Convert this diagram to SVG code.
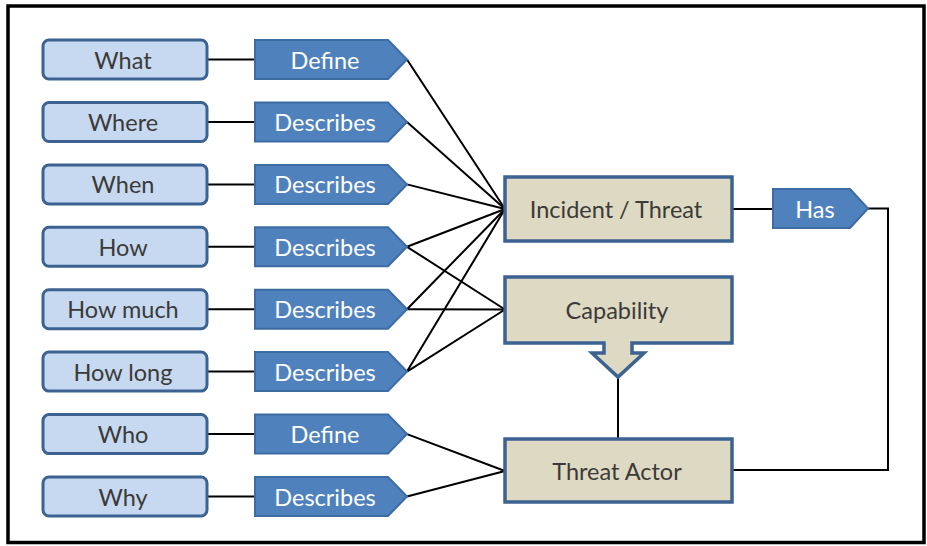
<svg xmlns="http://www.w3.org/2000/svg" width="927" height="546" viewBox="0 0 927 546">
  <defs>
    <style>
      .q { fill: #c6d9f1; stroke: #3b6291; stroke-width: 3; }
      .tag { fill: #4f81bd; stroke: #3d6ca3; stroke-width: 2; }
      .ent { fill: #ddd9c3; stroke: #3b6291; stroke-width: 3.5; }
      .conn { fill: none; stroke: #000; stroke-width: 2; }
      .t { font-family: Lato, "Liberation Sans", sans-serif; font-size: 23.5px; text-anchor: middle; dominant-baseline: central; }
      .dark { fill: #3c3a38; }
      .light { fill: #ffffff; }
    </style>
  </defs>

  <rect width="927" height="546" fill="#fff"/>
  <!-- outer frame -->
  <rect x="8" y="6" width="916" height="536.5" fill="none" stroke="#000" stroke-width="3.5"/>

  <!-- connectors -->
  <g id="connectors" class="conn">
    <line x1="207" y1="59.5" x2="255" y2="59.5"/>
    <line x1="207" y1="122" x2="255" y2="122"/>
    <line x1="207" y1="184.4" x2="255" y2="184.4"/>
    <line x1="207" y1="246.8" x2="255" y2="246.8"/>
    <line x1="207" y1="309.2" x2="255" y2="309.2"/>
    <line x1="207" y1="371.6" x2="255" y2="371.6"/>
    <line x1="207" y1="434.1" x2="255" y2="434.1"/>
    <line x1="207" y1="496.5" x2="255" y2="496.5"/>

    <line x1="407" y1="59.5" x2="505" y2="209"/>
    <line x1="407" y1="122" x2="505" y2="209"/>
    <line x1="407" y1="184.4" x2="505" y2="209"/>
    <line x1="407" y1="246.8" x2="505" y2="209"/>
    <line x1="407" y1="309.2" x2="505" y2="209"/>
    <line x1="407" y1="371.6" x2="505" y2="209"/>
    <line x1="407" y1="246.8" x2="505" y2="309.5"/>
    <line x1="407" y1="309.2" x2="505" y2="309.5"/>
    <line x1="407" y1="371.6" x2="505" y2="309.5"/>
    <line x1="407" y1="434.1" x2="505" y2="471"/>
    <line x1="407" y1="496.5" x2="505" y2="471"/>

    <line x1="732" y1="209" x2="773" y2="209"/>
    <polyline points="868,208.5 888,208.5 888,470 732,470"/>
    <line x1="618" y1="377" x2="618" y2="439"/>
  </g>

  <!-- question boxes -->
  <g id="what"><rect class="q" x="43" y="40" width="164" height="39" rx="6"/><text class="t dark" x="123" y="59.5">What</text></g>
  <g id="where"><rect class="q" x="43" y="102.5" width="164" height="39" rx="6"/><text class="t dark" x="123" y="122">Where</text></g>
  <g id="when"><rect class="q" x="43" y="164.9" width="164" height="39" rx="6"/><text class="t dark" x="123" y="184.4">When</text></g>
  <g id="how"><rect class="q" x="43" y="227.3" width="164" height="39" rx="6"/><text class="t dark" x="123" y="246.8">How</text></g>
  <g id="how-much"><rect class="q" x="43" y="289.7" width="164" height="39" rx="6"/><text class="t dark" x="123" y="309.2">How much</text></g>
  <g id="how-long"><rect class="q" x="43" y="352.1" width="164" height="39" rx="6"/><text class="t dark" x="123" y="371.6">How long</text></g>
  <g id="who"><rect class="q" x="43" y="414.6" width="164" height="39" rx="6"/><text class="t dark" x="123" y="434.1">Who</text></g>
  <g id="why"><rect class="q" x="43" y="477" width="164" height="39" rx="6"/><text class="t dark" x="123" y="496.5">Why</text></g>

  <!-- relation tags -->
  <g id="tag-what"><polygon class="tag" points="255,40 388,40 407,59.5 388,79 255,79"/><text class="t light" x="325" y="59.5">Define</text></g>
  <g id="tag-where"><polygon class="tag" points="255,102.5 388,102.5 407,122 388,141.5 255,141.5"/><text class="t light" x="325" y="122">Describes</text></g>
  <g id="tag-when"><polygon class="tag" points="255,164.9 388,164.9 407,184.4 388,203.9 255,203.9"/><text class="t light" x="325" y="184.4">Describes</text></g>
  <g id="tag-how"><polygon class="tag" points="255,227.3 388,227.3 407,246.8 388,266.3 255,266.3"/><text class="t light" x="325" y="246.8">Describes</text></g>
  <g id="tag-how-much"><polygon class="tag" points="255,289.7 388,289.7 407,309.2 388,328.7 255,328.7"/><text class="t light" x="325" y="309.2">Describes</text></g>
  <g id="tag-how-long"><polygon class="tag" points="255,352.1 388,352.1 407,371.6 388,391.1 255,391.1"/><text class="t light" x="325" y="371.6">Describes</text></g>
  <g id="tag-who"><polygon class="tag" points="255,414.6 388,414.6 407,434.1 388,453.6 255,453.6"/><text class="t light" x="325" y="434.1">Define</text></g>
  <g id="tag-why"><polygon class="tag" points="255,477 388,477 407,496.5 388,516 255,516"/><text class="t light" x="325" y="496.5">Describes</text></g>
  <g id="tag-has"><polygon class="tag" points="773,189 850,189 868,208.5 850,228 773,228"/><text class="t light" x="815" y="208.5">Has</text></g>

  <!-- entities -->
  <g id="incident-threat"><rect class="ent" x="505" y="177" width="227" height="64"/><text class="t dark" x="616" y="209">Incident / Threat</text></g>
  <g id="capability">
    <path class="ent" d="M505,277 H732 V343 H632 V353 H644 L618,377 L592,353 H604 V343 H505 Z"/>
    <text class="t dark" x="617" y="310">Capability</text>
  </g>
  <g id="threat-actor"><rect class="ent" x="505" y="439" width="227" height="63"/><text class="t dark" x="617" y="471">Threat Actor</text></g>
</svg>
